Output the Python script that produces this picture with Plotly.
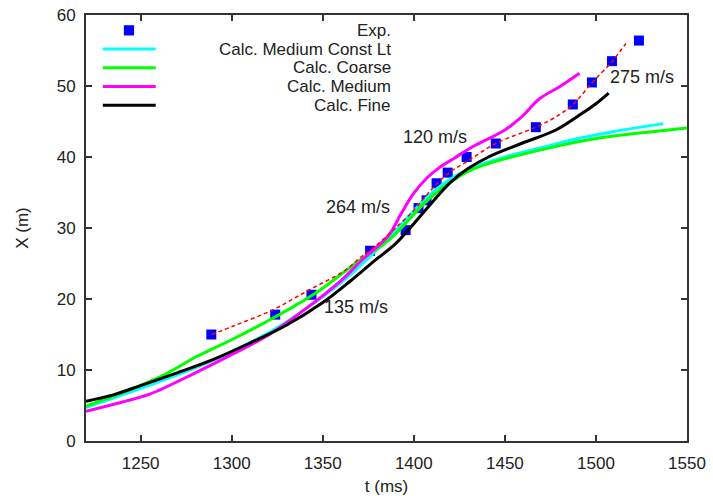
import plotly.graph_objects as go

# Experimental points
exp_t = [1288.8, 1323.9, 1343.8, 1376.0, 1395.5, 1402.6, 1407.0, 1412.5, 1418.6,
         1429.0, 1445.0, 1467.0, 1487.3, 1497.8, 1508.8, 1523.6]
exp_x = [15.0, 17.8, 20.6, 26.8, 29.7, 32.8, 33.9, 36.3, 37.8,
         40.0, 41.9, 44.2, 47.4, 50.5, 53.5, 56.4]

# Red dashed fit through experiment
fit_t = [1289, 1301, 1322, 1342, 1362, 1370, 1380, 1390, 1400, 1410, 1419,
         1430, 1445, 1467, 1477, 1487, 1498, 1509, 1516.5]
fit_x = [15.0, 16.2, 18.4, 21.2, 24.0, 25.7, 27.7, 30.0, 32.5, 35.5, 37.7,
         39.5, 41.9, 44.2, 45.5, 47.3, 50.5, 53.5, 56.0]

# Calc. Medium Const Lt (cyan)
cyan_t = [1220, 1250, 1280, 1300, 1320, 1340, 1360, 1380, 1395, 1405, 1415,
          1430, 1450, 1470, 1490, 1510, 1537]
cyan_x = [4.7, 7.4, 10.3, 12.6, 15.2, 18.5, 22.3, 27.0, 31.0, 33.8, 36.0,
          38.3, 40.0, 41.3, 42.6, 43.6, 44.7]

# Calc. Coarse (green)
green_t = [1220, 1240, 1262, 1280, 1301, 1324, 1347, 1370, 1385, 1395, 1405,
           1415, 1430, 1445, 1460, 1480, 1500, 1525, 1550]
green_x = [4.9, 6.8, 9.2, 11.8, 14.4, 17.5, 21.0, 25.4, 28.0, 30.5, 33.3,
           35.5, 38.0, 39.4, 40.4, 41.6, 42.6, 43.4, 44.1]

# Calc. Medium (magenta)
mag_t = [1220, 1240, 1255, 1280, 1301, 1320, 1340, 1360, 1372, 1386, 1393,
         1400, 1407, 1414, 1422, 1432, 1450, 1459, 1469, 1480, 1491]
mag_x = [4.2, 5.5, 6.6, 9.6, 12.3, 14.9, 18.5, 22.6, 25.6, 28.9, 32.0,
         34.9, 37.0, 38.5, 39.8, 41.4, 43.8, 45.6, 48.2, 49.9, 51.8]

# Calc. Fine (black)
fine_t = [1220, 1235, 1250, 1270, 1290, 1310, 1330, 1350, 1365, 1378, 1390,
          1400, 1410, 1420, 1430, 1441, 1459, 1478, 1491, 1500, 1507]
fine_x = [5.6, 6.5, 7.8, 9.6, 11.5, 13.8, 16.3, 19.5, 22.5, 25.3, 27.8,
          30.6, 33.6, 36.4, 38.4, 40.0, 41.9, 43.8, 45.9, 47.5, 49.0]

x_ticks = [1250, 1300, 1350, 1400, 1450, 1500, 1550]
y_ticks = [0, 10, 20, 30, 40, 50, 60]

legend_names = ["Exp.", "Calc. Medium Const Lt", "Calc. Coarse", "Calc. Medium", "Calc. Fine"]
legend_colors = ["#0000ff", "#00ffff", "#00ff00", "#ff00ff", "#000000"]

speed_labels = ["120 m/s", "264 m/s", "135 m/s", "275 m/s"]
speed_t = [1411.5, 1369.5, 1368.5, 1525.5]
speed_x = [42.8, 32.9, 18.9, 51.3]

FONT = "Liberation Sans, Arial, sans-serif"
TXT = "#222222"

fig = go.Figure()
fig.add_trace(go.Scatter(x=exp_t, y=exp_x, mode="markers",
                         marker=dict(symbol="square", size=10, color="#0000ff"),
                         name="Exp.", showlegend=False))
fig.add_trace(go.Scatter(x=cyan_t, y=cyan_x, mode="lines", line=dict(color="#00ffff", width=3, shape="spline"),
                         showlegend=False))
fig.add_trace(go.Scatter(x=green_t, y=green_x, mode="lines", line=dict(color="#00ff00", width=3, shape="spline"),
                         showlegend=False))
fig.add_trace(go.Scatter(x=mag_t, y=mag_x, mode="lines", line=dict(color="#ff00ff", width=3, shape="spline"),
                         showlegend=False))
fig.add_trace(go.Scatter(x=fine_t, y=fine_x, mode="lines", line=dict(color="#000000", width=3, shape="spline"),
                         showlegend=False))
fig.add_trace(go.Scatter(x=fit_t, y=fit_x, mode="lines",
                         line=dict(color="#ff0000", width=1.5, dash="4px,3px", shape="spline"),
                         showlegend=False))

annotations = []
for lab, tt, xx in zip(speed_labels, speed_t, speed_x):
    annotations.append(dict(x=tt, y=xx, xref="x", yref="y", text=lab, showarrow=False,
                            font=dict(family=FONT, size=18, color=TXT)))

# manual gnuplot-style legend
shapes = []
rows_y = [0.964, 0.920, 0.876, 0.832, 0.788]
for i, (nm, col) in enumerate(zip(legend_names, legend_colors)):
    y = rows_y[i]
    annotations.append(dict(x=0.509, y=y, xref="paper", yref="paper", text=nm, showarrow=False,
                            xanchor="right", yanchor="middle", borderpad=0,
                            font=dict(family=FONT, size=17, color=TXT)))
    if i == 0:
        shapes.append(dict(type="rect", xref="paper", yref="paper",
                           x0=0.063, x1=0.080, y0=y - 0.012, y1=y + 0.012,
                           fillcolor=col, line=dict(width=0)))
    else:
        shapes.append(dict(type="line", xref="paper", yref="paper",
                           x0=0.028, x1=0.116, y0=y, y1=y,
                           line=dict(color=col, width=3)))

axis_common = dict(showgrid=False, zeroline=False, showline=True, mirror="ticks",
                   linecolor="#333333", linewidth=2, ticks="inside", ticklen=6,
                   tickwidth=1.5, tickcolor="#333333", automargin=False,
                   ticklabeloverflow="allow",
                   tickfont=dict(family=FONT, size=17, color=TXT))

fig.update_layout(
    width=713, height=496,
    margin=dict(l=86, r=26, t=15, b=55),
    paper_bgcolor="white", plot_bgcolor="white",
    showlegend=False,
    xaxis=dict(range=[1220, 1550], tickvals=x_ticks, ticklabelstandoff=6,
               title=dict(text="t (ms)", font=dict(family=FONT, size=17, color=TXT), standoff=10),
               **axis_common),
    yaxis=dict(range=[0, 60], tickvals=y_ticks, ticklabelstandoff=5,
               title=dict(text="X (m)", font=dict(family=FONT, size=17, color=TXT), standoff=24),
               **axis_common),
    annotations=annotations,
    shapes=shapes,
)

fig.write_html("out.html", config={"displayModeBar": False},
               post_script="document.body.style.margin='0';")
